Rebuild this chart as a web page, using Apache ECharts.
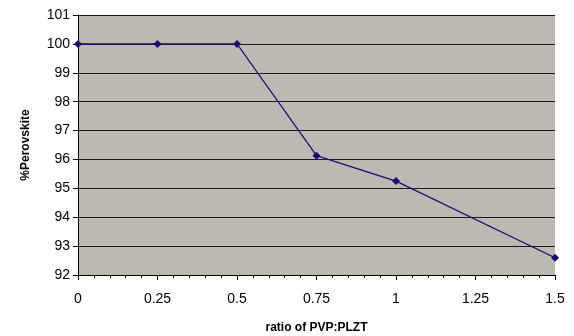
<!DOCTYPE html>
<html>
<head>
<meta charset="utf-8">
<script src="https://cdn.jsdelivr.net/npm/echarts@6/dist/echarts.min.js"></script>
<style>
  html, body { margin: 0; padding: 0; background: #fff; }
  #chart { width: 574px; height: 336px; }
</style>
</head>
<body>
<div id="chart"></div>
<script>
// ratio of PVP:PLZT vs %Perovskite
const ratios = [0, 0.25, 0.5, 0.75, 1, 1.5];
const perovskite = [100, 100, 100, 96.13, 95.25, 92.6];

const chart = echarts.init(document.getElementById("chart"));
const font = "Liberation Sans, Arial, sans-serif";

const option = {
  animation: false,
  backgroundColor: "#ffffff",
  grid: {
    left: 78,
    right: 19,
    top: 15,
    bottom: 61,
    containLabel: false,
    outerBoundsMode: "none",
    show: true,
    backgroundColor: "#bcb9b2",
    borderWidth: 0
  },
  xAxis: {
    type: "value",
    min: 0,
    max: 1.5,
    interval: 0.25,
    name: "ratio of PVP:PLZT",
    nameLocation: "middle",
    nameGap: 47,
    nameTextStyle: { fontFamily: font, fontWeight: "bold", fontSize: 12, color: "#000" },
    axisLine: { show: true, lineStyle: { color: "#000", width: 1 } },
    axisTick: { show: true, length: 5, inside: false, lineStyle: { color: "#000" } },
    minorTick: { show: true, splitNumber: 5, length: 3, lineStyle: { color: "#000" } },
    splitLine: { show: false },
    axisLabel: {
      fontFamily: font,
      fontSize: 14,
      color: "#000",
      margin: 17,
      formatter: (v) => String(v)
    }
  },
  yAxis: {
    type: "value",
    min: 92,
    max: 101,
    interval: 1,
    name: "%Perovskite",
    nameLocation: "middle",
    nameGap: 46,
    nameTextStyle: { fontFamily: font, fontWeight: "bold", fontSize: 12, color: "#000" },
    axisLine: { show: true, lineStyle: { color: "#000", width: 1 } },
    axisTick: { show: true, length: 5, lineStyle: { color: "#000" } },
    splitLine: { show: true, lineStyle: { color: "#1a1a1a", width: 1 } },
    axisLabel: { fontFamily: font, fontSize: 14, color: "#000", margin: 8 }
  },
  series: [
    {
      type: "line",
      data: ratios.map((r, i) => [r, perovskite[i]]),
      symbol: "diamond",
      symbolSize: 8,
      z: 5,
      lineStyle: { color: "#1a0a7a", width: 1.2 },
      itemStyle: { color: "#1a0a7a" },
      clip: false
    }
  ]
};

chart.setOption(option);
</script>
</body>
</html>
